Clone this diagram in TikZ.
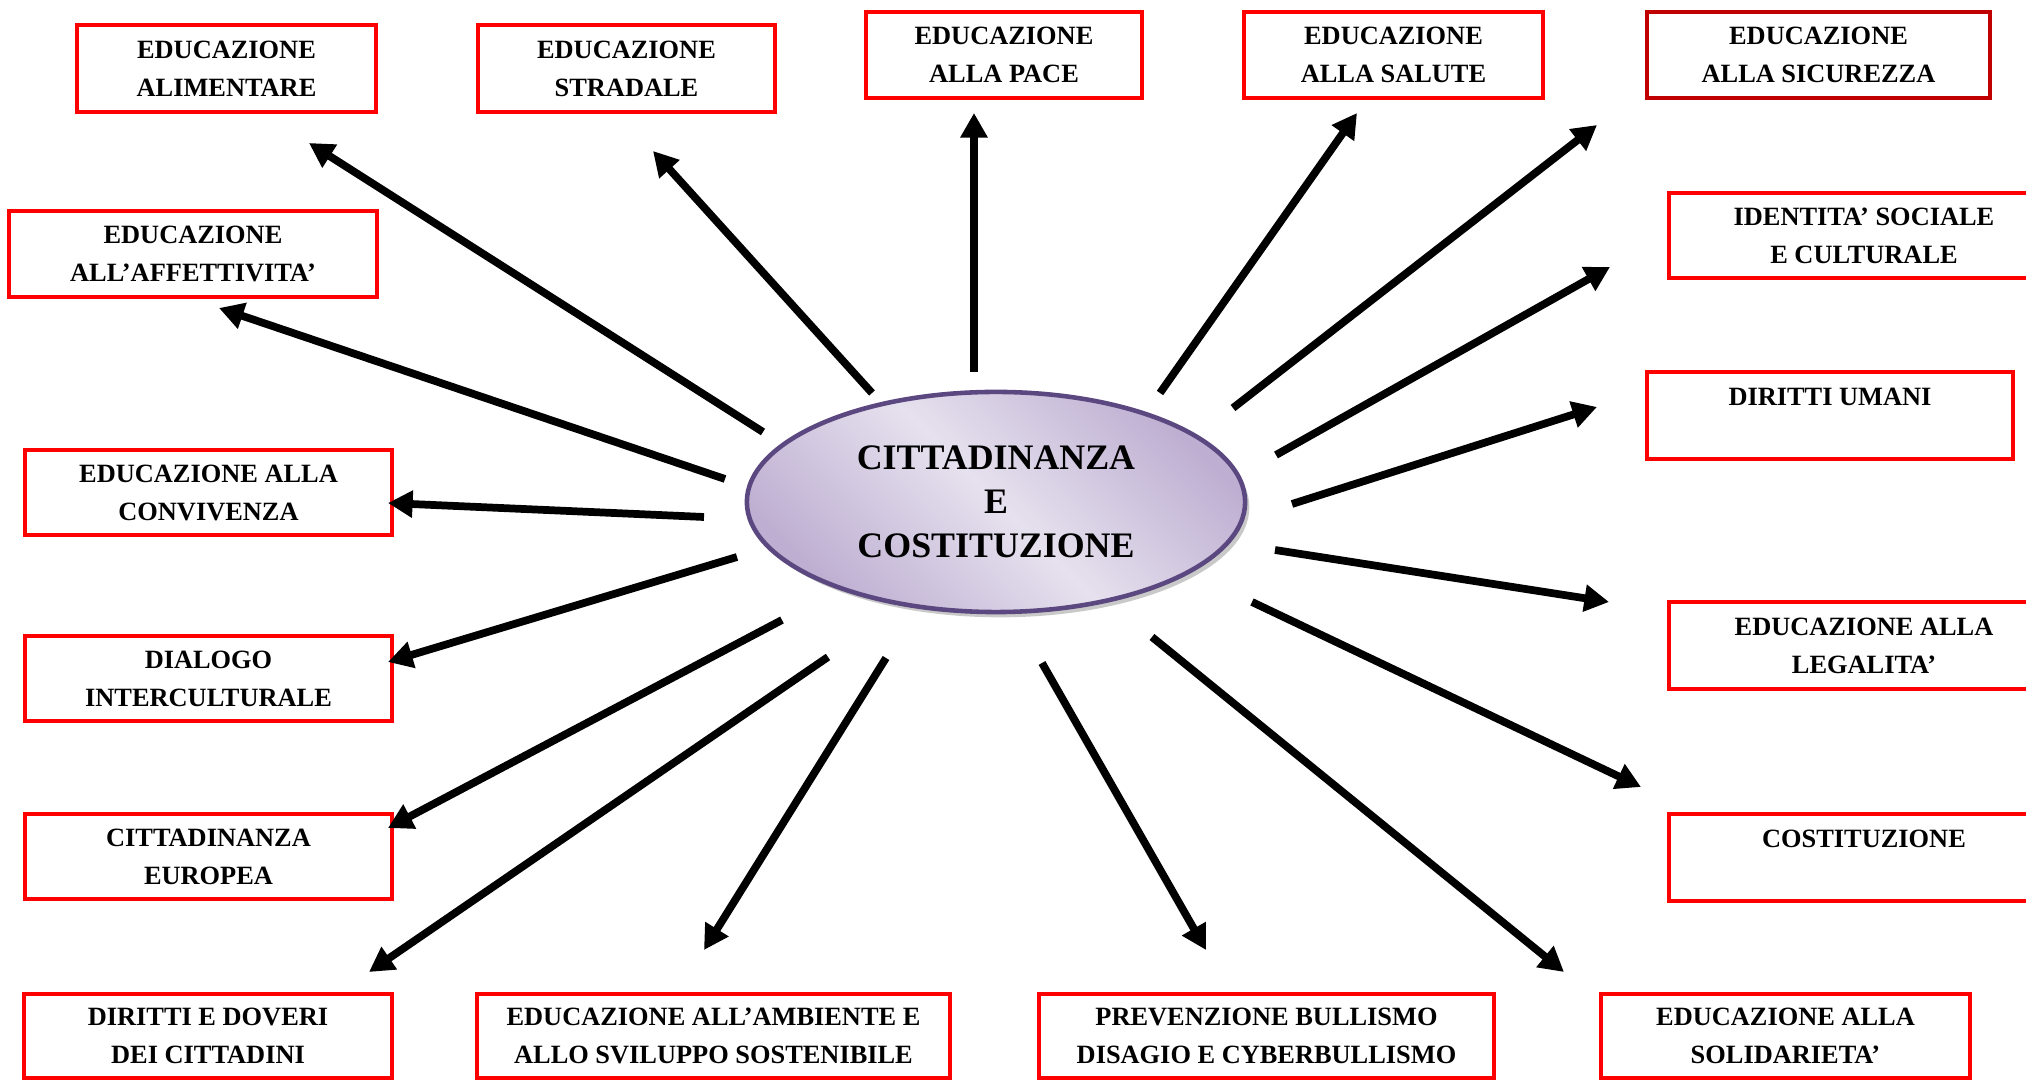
\documentclass[tikz,border=0pt]{standalone}
\usepackage{fontspec}
\setmainfont{Liberation Serif}
\usetikzlibrary{arrows.meta, shapes.geometric, shadows}
\definecolor{boxred}{HTML}{FF0000}
\definecolor{darkred}{HTML}{C00000}
\definecolor{lilac}{HTML}{E6E1EE}
\definecolor{mauve}{HTML}{BEAFD2}
\definecolor{plum}{HTML}{5C4880}

\tikzset{
  box/.style={draw=boxred, line width=0.95pt, rectangle, inner sep=0pt, align=center,
    font=\fontsize{7.5}{10.8}\selectfont\bfseries},
  ray/.style={line width=2.2pt, -{Triangle[length=7pt,width=7.4pt]}}
}

\begin{document}
\begin{tikzpicture}[x=0.01cm, y=-0.01cm]
\useasboundingbox (0,0) rectangle (2026,1080);
\clip (0,0) rectangle (2026,1080);

% centre
\node[ellipse, draw=plum, line width=1.3pt, minimum width=4.98cm, minimum height=2.2cm,
  top color=mauve, bottom color=mauve, middle color=lilac, shading angle=-45,
  drop shadow={shadow xshift=1.2pt, shadow yshift=-1.5pt, fill=black!30, opacity=0.7},
  align=center, font=\fontsize{10.2}{12.5}\selectfont\bfseries] (cc) at (996,502)
  {CITTADINANZA\\E\\COSTITUZIONE};

% top row
\node[box, minimum width=2.99cm, minimum height=0.87cm] (ali) at (226.5,68.5) {EDUCAZIONE\\ALIMENTARE};
\node[box, minimum width=2.97cm, minimum height=0.87cm] (str) at (626.5,68.5) {EDUCAZIONE\\STRADALE};
\node[box, minimum width=2.76cm, minimum height=0.86cm] (pac) at (1004,55) {EDUCAZIONE\\ALLA PACE};
\node[box, minimum width=2.99cm, minimum height=0.86cm] (sal) at (1393.5,55) {EDUCAZIONE\\ALLA SALUTE};
\node[box, draw=darkred, minimum width=3.43cm, minimum height=0.86cm] (sic) at (1818.5,55) {EDUCAZIONE\\ALLA SICUREZZA};

% right column
\node[box, minimum width=3.9cm, minimum height=0.85cm] (ide) at (1864,235.5) {IDENTITA’ SOCIALE\\E CULTURALE};
\node[box, minimum width=3.66cm, minimum height=0.87cm] (dir) at (1830,415.5) {DIRITTI UMANI\\\mbox{}};
\node[box, minimum width=3.9cm, minimum height=0.87cm] (leg) at (1864,645.5) {EDUCAZIONE ALLA\\LEGALITA’};
\node[box, minimum width=3.9cm, minimum height=0.87cm] (cos) at (1864,857.5) {COSTITUZIONE\\\mbox{}};

% bottom row
\node[box, minimum width=3.69cm, minimum height=0.84cm] (sol) at (1785.5,1036) {EDUCAZIONE ALLA\\SOLIDARIETA’};
\node[box, minimum width=4.55cm, minimum height=0.84cm] (pre) at (1266.5,1036) {PREVENZIONE BULLISMO\\DISAGIO E CYBERBULLISMO};
\node[box, minimum width=4.73cm, minimum height=0.84cm] (amb) at (713.5,1036) {EDUCAZIONE ALL’AMBIENTE E\\ALLO SVILUPPO SOSTENIBILE};
\node[box, minimum width=3.68cm, minimum height=0.84cm] (dov) at (208,1036) {DIRITTI E DOVERI\\DEI CITTADINI};

% left column
\node[box, minimum width=3.67cm, minimum height=0.85cm] (eur) at (208.5,856.5) {CITTADINANZA\\EUROPEA};
\node[box, minimum width=3.67cm, minimum height=0.85cm] (dia) at (208.5,678.5) {DIALOGO\\INTERCULTURALE};
\node[box, minimum width=3.67cm, minimum height=0.85cm] (con) at (208.5,492.5) {EDUCAZIONE ALLA\\CONVIVENZA};
\node[box, minimum width=3.68cm, minimum height=0.86cm] (aff) at (193,254) {EDUCAZIONE\\ALL’AFFETTIVITA’};

% arrows
\foreach \n/\sx/\sy/\ex/\ey in {ali/763/432/309/143, str/872/393/653/151, pac/974/372/974/113,
  sal/1160/393/1357/113, sic/1233/408/1597/125, ide/1276/455/1610/267, dir/1292/504/1597/407,
  leg/1275/550/1609/602, cos/1252/602/1641/787, sol/1152/637/1564/972, pre/1042/663/1206/950,
  amb/886/658/704/950, dov/828/657/369/972, eur/782/620/388/828, dia/737/557/388/662,
  con/704/517/388/503, aff/725/479/219/308}{
  \coordinate (\n-from) at (\sx,\sy);
  \coordinate (\n-to) at (\ex,\ey);
  \draw[ray] (\n-from) -- (\n-to);
}
\end{tikzpicture}
\end{document}
